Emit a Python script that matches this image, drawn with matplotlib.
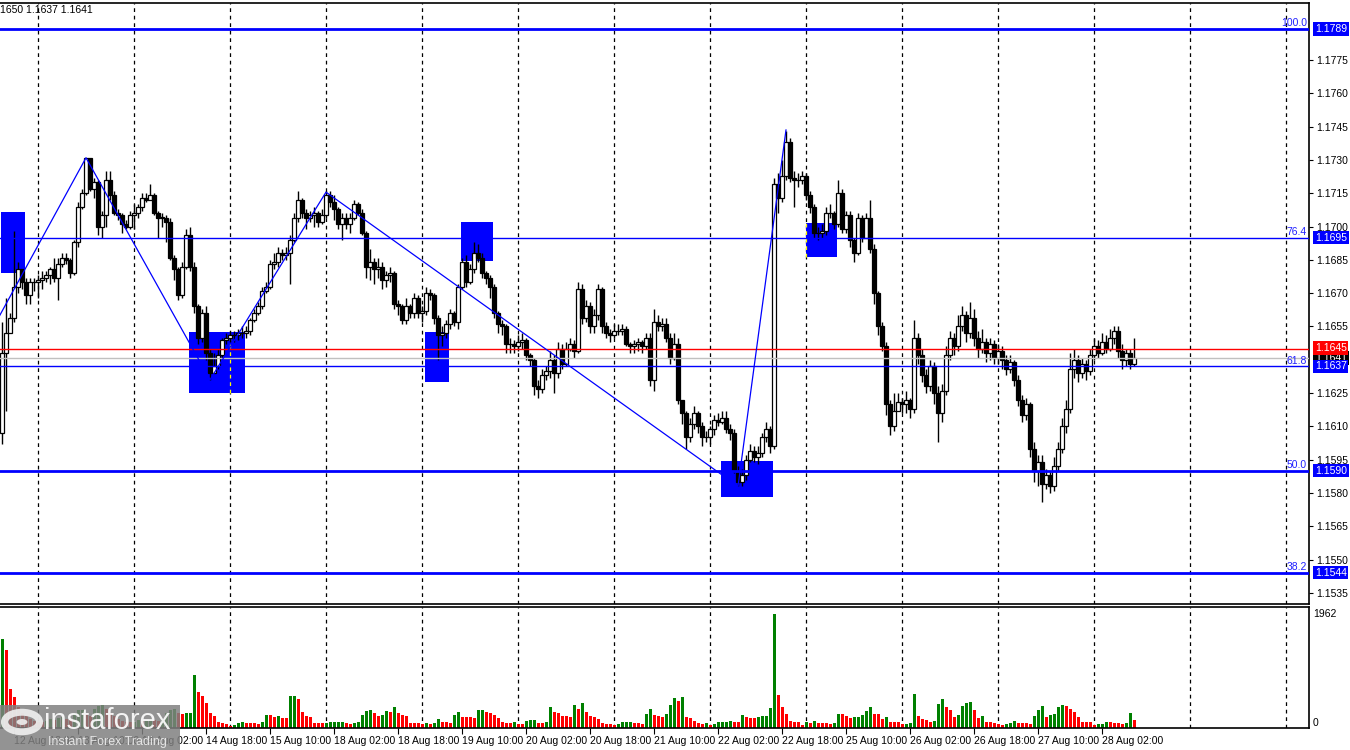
import matplotlib

matplotlib.use("Agg")
import matplotlib.pyplot as plt
import numpy as np
import pandas as pd
from matplotlib.patches import Circle, Rectangle
from matplotlib.transforms import blended_transform_factory

plt.rcParams["font.family"] = ["Liberation Sans", "DejaVu Sans"]

W, H = 1350, 750

# EURUSD H1, prices given as pips above 1.1000 (643 -> 1.1643)
FIRST_OPEN = 607
CLOSES = [
    643, 652, 659, 673, 681, 675, 669, 675, 675, 676, 677, 678, 681, 677, 683, 686,
    685, 679, 693, 709, 715, 731, 717, 720, 700, 705, 721, 714, 706, 705, 701, 700,
    705, 706, 709, 713, 712, 714, 706, 704, 704, 702, 686, 681, 669, 682, 696, 682,
    664, 650, 661, 643, 634, 637, 642, 649, 650, 651, 651, 652, 652, 653, 658, 661,
    664, 671, 673, 683, 684, 688, 687, 688, 694, 704, 712, 706, 704, 705, 706, 702,
    705, 714, 711, 708, 701, 704, 701, 704, 710, 706, 697, 682, 684, 681, 682, 676,
    678, 679, 665, 664, 658, 664, 661, 668, 661, 662, 670, 669, 659, 651, 652, 656,
    661, 657, 673, 684, 675, 681, 688, 686, 679, 677, 673, 661, 656, 655, 647, 647,
    646, 648, 649, 642, 640, 628, 627, 633, 635, 640, 634, 645, 638, 645, 647, 644,
    672, 659, 664, 655, 660, 672, 655, 652, 651, 653, 653, 654, 647, 646, 647, 648,
    646, 650, 631, 657, 655, 656, 650, 641, 647, 622, 616, 605, 611, 616, 610, 605,
    605, 609, 613, 612, 614, 609, 607, 590, 585, 588, 595, 599, 596, 598, 605, 609,
    601, 719, 713, 723, 738, 722, 721, 721, 723, 714, 709, 697, 697, 698, 706, 706,
    701, 715, 699, 705, 694, 688, 704, 695, 704, 690, 670, 655, 646, 620, 610, 617,
    621, 620, 622, 618, 650, 642, 633, 628, 637, 625, 616, 626, 642, 650, 646, 655,
    660, 652, 659, 650, 645, 648, 643, 647, 641, 644, 640, 636, 639, 631, 622, 615,
    620, 600, 590, 594, 584, 588, 583, 592, 600, 610, 618, 636, 640, 634, 638, 635,
    642, 646, 643, 648, 645, 650, 653, 644, 640, 643, 638, 641,
]
HIGHS = [
    657, 668, 661, 698, 684, 681, 677, 677, 677, 678, 680, 680, 682, 686, 686, 688,
    688, 686, 694, 711, 717, 731, 730, 722, 721, 707, 725, 725, 716, 708, 706, 703,
    707, 710, 710, 715, 715, 719, 715, 707, 706, 705, 704, 687, 682, 684, 699, 700,
    684, 665, 663, 664, 645, 643, 645, 650, 652, 653, 653, 654, 655, 655, 659, 663,
    666, 673, 675, 685, 688, 691, 690, 691, 696, 706, 716, 713, 708, 707, 709, 707,
    708, 716, 716, 714, 709, 706, 706, 706, 712, 711, 708, 698, 690, 686, 686, 684,
    680, 682, 680, 667, 665, 668, 665, 670, 669, 664, 673, 672, 670, 660, 655, 658,
    663, 662, 674, 686, 687, 683, 693, 692, 688, 680, 678, 674, 662, 658, 656, 650,
    649, 651, 652, 650, 643, 641, 631, 636, 637, 644, 642, 648, 647, 648, 650, 649,
    675, 674, 667, 666, 663, 674, 673, 657, 654, 656, 656, 656, 655, 648, 649, 650,
    649, 652, 652, 663, 660, 659, 659, 652, 652, 650, 622, 617, 614, 619, 617, 612,
    608, 610, 615, 616, 617, 617, 611, 609, 592, 591, 597, 602, 601, 601, 607, 612,
    610, 722, 724, 730, 743, 740, 725, 724, 725, 724, 716, 710, 700, 701, 709, 710,
    707, 721, 717, 707, 707, 695, 706, 705, 706, 712, 692, 671, 657, 648, 622, 625,
    625, 623, 626, 623, 658, 652, 645, 636, 640, 639, 628, 629, 646, 653, 652, 660,
    664, 662, 666, 663, 653, 654, 650, 650, 649, 647, 646, 642, 642, 640, 633, 624,
    623, 621, 603, 597, 597, 591, 590, 596, 603, 614, 622, 643, 645, 642, 641, 640,
    645, 650, 649, 652, 651, 654, 655, 655, 647, 645, 645, 650,
]
LOWS = [
    602, 617, 653, 657, 670, 672, 665, 665, 671, 668, 672, 675, 674, 675, 667, 682,
    683, 677, 678, 691, 708, 714, 716, 713, 696, 695, 700, 712, 705, 703, 697, 699,
    699, 699, 704, 707, 711, 712, 705, 695, 700, 693, 685, 676, 667, 668, 681, 680,
    661, 647, 648, 640, 631, 635, 636, 641, 647, 648, 648, 649, 650, 650, 651, 657,
    660, 663, 670, 672, 681, 682, 685, 685, 674, 693, 702, 704, 699, 702, 700, 700,
    701, 704, 709, 703, 699, 694, 699, 697, 703, 705, 696, 677, 676, 674, 677, 672,
    673, 675, 663, 660, 656, 656, 659, 659, 659, 657, 660, 667, 656, 640, 646, 650,
    654, 655, 654, 672, 673, 674, 679, 684, 677, 674, 668, 659, 652, 651, 643, 643,
    643, 644, 645, 640, 637, 624, 623, 625, 631, 632, 625, 632, 636, 637, 644, 641,
    643, 656, 657, 652, 652, 658, 652, 650, 648, 650, 651, 651, 646, 643, 643, 644,
    643, 645, 628, 626, 653, 653, 648, 638, 640, 620, 611, 600, 603, 609, 607, 601,
    603, 602, 606, 610, 611, 607, 604, 589, 583, 583, 586, 594, 594, 593, 596, 603,
    598, 600, 706, 711, 721, 720, 709, 718, 719, 712, 706, 695, 694, 695, 696, 704,
    699, 700, 697, 697, 691, 684, 687, 693, 695, 688, 665, 651, 644, 615, 606, 608,
    617, 616, 616, 614, 616, 638, 630, 625, 626, 620, 603, 612, 624, 640, 642, 644,
    653, 648, 650, 646, 641, 643, 639, 640, 638, 638, 636, 633, 634, 628, 619, 612,
    613, 596, 585, 583, 576, 582, 580, 581, 590, 598, 607, 616, 632, 630, 632, 631,
    633, 640, 641, 642, 643, 644, 647, 641, 636, 637, 636, 637,
]
VOLUMES = [
    1530, 1334, 673, 534, 365, 250, 200, 150, 120, 100, 90, 110, 150, 130, 160, 180,
    150, 140, 250, 300, 310, 230, 200, 330, 380, 400, 330, 250, 200, 150, 120, 100,
    90, 100, 130, 110, 120, 150, 130, 110, 150, 250, 300, 330, 250, 240, 250, 260,
    915, 608, 540, 434, 260, 203, 100, 75, 64, 30, 46, 75, 104, 87, 84, 75,
    64, 104, 220, 215, 190, 203, 174, 170, 540, 550, 492, 278, 203, 190, 87, 85,
    83, 87, 90, 98, 100, 102, 75, 72, 87, 90, 220, 295, 300, 250, 210, 220,
    295, 278, 365, 260, 220, 203, 87, 85, 82, 64, 87, 64, 75, 150, 104, 100,
    87, 220, 266, 191, 190, 180, 162, 307, 310, 266, 249, 220, 174, 98, 87, 85,
    90, 64, 60, 116, 133, 136, 87, 85, 104, 365, 266, 249, 203, 200, 191, 394,
    324, 434, 278, 203, 180, 145, 75, 64, 62, 46, 64, 98, 100, 102, 75, 73,
    70, 237, 324, 220, 203, 191, 237, 394, 515, 469, 533, 185, 168, 116, 75, 64,
    75, 46, 64, 98, 100, 102, 122, 98, 96, 220, 191, 174, 172, 191, 203, 205,
    342, 1962, 567, 359, 237, 122, 98, 96, 46, 98, 75, 116, 87, 85, 83, 64,
    87, 237, 235, 203, 168, 185, 187, 220, 290, 359, 243, 240, 150, 185, 98, 96,
    90, 64, 66, 81, 585, 203, 150, 133, 98, 116, 411, 498, 359, 307, 185, 220,
    376, 428, 446, 307, 168, 203, 98, 96, 81, 64, 46, 64, 81, 116, 81, 79,
    77, 64, 203, 307, 376, 185, 220, 237, 359, 394, 376, 324, 272, 185, 98, 96,
    94, 46, 64, 66, 98, 96, 81, 79, 64, 81, 255, 133,
]

FIB_NAMES = ["100.0", "76.4", "61.8", "50.0", "38.2"]
FIB_PRICES = [1.1789, 1.1695, 1.1637, 1.1590, 1.1544]
FIB_WIDTHS = [2, 1, 1, 2, 2]
RED_LINE = 1.1645
BID_PRICE = 1.1641
PRICE_TICKS = [1.1775, 1.1760, 1.1745, 1.1730, 1.1715, 1.1700, 1.1685, 1.1670,
               1.1655, 1.1625, 1.1610, 1.1595, 1.1580, 1.1565, 1.1550, 1.1535]

# highlighted zones: (first bar, last bar, top price, bottom price)
ZONES = [
    (-0.25, 5.75, 1.17066, 1.16791),
    (46.75, 60.75, 1.16525, 1.16250),
    (105.75, 111.75, 1.16525, 1.16300),
    (114.75, 122.75, 1.17020, 1.16845),
    (179.75, 192.75, 1.15944, 1.15782),
    (201.0, 208.75, 1.17016, 1.16863),
]
# zigzag swing points (bar index, price)
ZIGZAG_BARS = [-10, 21, 52, 81, 184, 196]
ZIGZAG_PRICES = [1.16289, 1.1731, 1.1631, 1.17155, 1.1583, 1.17435]


def to_price(pips):
    return 1.1 + np.asarray(pips, dtype=float) / 10000


def fx(px):
    return px / W


closes = to_price(CLOSES)
opens = np.concatenate([to_price([FIRST_OPEN]), closes[:-1]])
highs = np.maximum(to_price(HIGHS), np.maximum(opens, closes))
lows = np.minimum(to_price(LOWS), np.minimum(opens, closes))
vols = np.asarray(VOLUMES, dtype=float)
n = len(closes)
idx = np.arange(n)

hours = pd.date_range("2025-08-12 15:00", "2025-09-02 00:00", freq="h")
hours = hours[hours.weekday < 5][:330]
day_starts = [i for i, t in enumerate(hours) if t.hour == 0]
label_bars = list(range(3, n, 16))
label_text = [f"{hours[i].day} {hours[i].strftime('%b %H:%M')}" for i in label_bars]

fig = plt.figure(figsize=(W / 100, H / 100), dpi=100, facecolor="white")
ax = fig.add_axes([0, 1 - 604 / H, 1309 / W, 601 / H])
axv = fig.add_axes([0, 1 - 728 / H, 1309 / W, 121 / H])

xlim = (-0.5, 326.75)
for a in (ax, axv):
    a.set_xlim(*xlim)
    a.set_facecolor("white")
    a.spines["left"].set_visible(False)
    for s in ("top", "right", "bottom"):
        a.spines[s].set_color("black")
        a.spines[s].set_linewidth(1.2)
    for d in day_starts:
        a.axvline(d, color="black", lw=0.9, ls=(0, (3, 3)), zorder=0.5)

ax.set_ylim(1.1530, 1.18007)

# zones
for x0, x1, top, bot in ZONES:
    ax.add_patch(Rectangle((x0, bot), x1 - x0, top - bot, facecolor="#0000FF",
                           edgecolor="none", zorder=1))
    for d in day_starts:
        if x0 <= d <= x1:
            ax.vlines(d, bot, top, color="yellow", lw=0.9, ls=(0, (3, 3)), zorder=1.5)

# candles
ax.vlines(idx, lows, highs, color="black", lw=1, zorder=2)
up = closes >= opens
body_lo = np.minimum(opens, closes)
body_h = np.maximum(np.abs(closes - opens), 0.00001)
ax.bar(idx, body_h, bottom=body_lo, width=0.78,
       color=np.where(up, "white", "black"), edgecolor="black", linewidth=0.9, zorder=3)

# fibo levels and horizontal lines
for name, price, lw in zip(FIB_NAMES, FIB_PRICES, FIB_WIDTHS):
    ax.axhline(price, color="#0000FF", lw=lw, zorder=4)
ax.axhline(BID_PRICE, color="#C0C0C0", lw=1, zorder=4)
ax.axhline(RED_LINE, color="#FF0000", lw=1, zorder=4)

ax.plot(ZIGZAG_BARS, ZIGZAG_PRICES, color="#0000FF", lw=0.9, zorder=4)

# right price scale
ax.yaxis.tick_right()
ax.set_yticks(PRICE_TICKS)
ax.set_yticklabels([f"{p:.4f}" for p in PRICE_TICKS])
ax.tick_params(axis="y", direction="out", length=3, pad=2, labelsize=7.5, colors="black")
ax.tick_params(axis="x", bottom=False, labelbottom=False)

tr = blended_transform_factory(fig.transFigure, ax.transData)
for name, price in zip(FIB_NAMES, FIB_PRICES):
    ax.text(fx(1307), price + 0.00004, name, transform=tr, ha="right", va="bottom",
            fontsize=7.5, color="#2020FF", zorder=5)
    ax.text(fx(1315), price, f"{price:.4f}", transform=tr, ha="left", va="center",
            fontsize=7.5, color="white", zorder=6,
            bbox=dict(boxstyle="square,pad=0.15", facecolor="#0000FF", edgecolor="none"))
ax.text(fx(1315), RED_LINE + 0.00003, f"{RED_LINE:.4f}", transform=tr, ha="left", va="center",
        fontsize=7.5, color="white", zorder=6,
        bbox=dict(boxstyle="square,pad=0.15", facecolor="#FF0000", edgecolor="none"))
ax.text(fx(1315), BID_PRICE - 0.00002, f"{BID_PRICE:.4f}", transform=tr, ha="left", va="center",
        fontsize=7.5, color="white", zorder=5,
        bbox=dict(boxstyle="square,pad=0.15", facecolor="black", edgecolor="none"))

# volumes
vol_colors = ["#008000"] + ["#008000" if vols[i] > vols[i - 1] else "#FF0000" for i in range(1, n)]
axv.bar(idx, vols, width=0.75, color=vol_colors, zorder=2)
axv.set_ylim(-5, 2083)
axv.set_yticks([])
axv.set_xticks(label_bars)
axv.set_xticklabels(label_text)
for lbl in axv.get_xticklabels():
    lbl.set_horizontalalignment("left")
axv.tick_params(axis="x", direction="out", length=4, pad=2, labelsize=7.5, colors="black")
trv = blended_transform_factory(fig.transFigure, axv.transData)
axv.text(fx(1313), 1962, "1962", transform=trv, ha="left", va="center", fontsize=7.5)
axv.text(fx(1313), 0, "0", transform=trv, ha="left", va="bottom", fontsize=7.5)

# header text
fig.text(0, 1 - 10 / H, "1650 1.1637 1.1641", ha="left", va="center", fontsize=7.5)

# watermark
fig.patches.append(Rectangle((0, 0), fx(180), 45 / H, transform=fig.transFigure,
                             facecolor="#808080", alpha=0.85, edgecolor="none", zorder=10))
fig.patches.append(Circle((fx(22), 1 - 722 / H), 0.013, transform=fig.transFigure,
                          facecolor="none", edgecolor="#f0f0f0", lw=5, alpha=0.9, zorder=11))
fig.patches.append(Circle((fx(22), 1 - 722 / H), 0.004, transform=fig.transFigure,
                          facecolor="#f0f0f0", edgecolor="none", alpha=0.9, zorder=11))
fig.text(fx(44), 1 - 721 / H, "instaforex", ha="left", va="center", fontsize=21,
         color="white", alpha=0.9, zorder=12)
fig.text(fx(48), 1 - 742 / H, "Instant Forex Trading", ha="left", va="center", fontsize=9,
         color="#eeeeee", alpha=0.9, zorder=12)

fig.savefig("out.png", dpi=100, facecolor="white")
plt.close(fig)
